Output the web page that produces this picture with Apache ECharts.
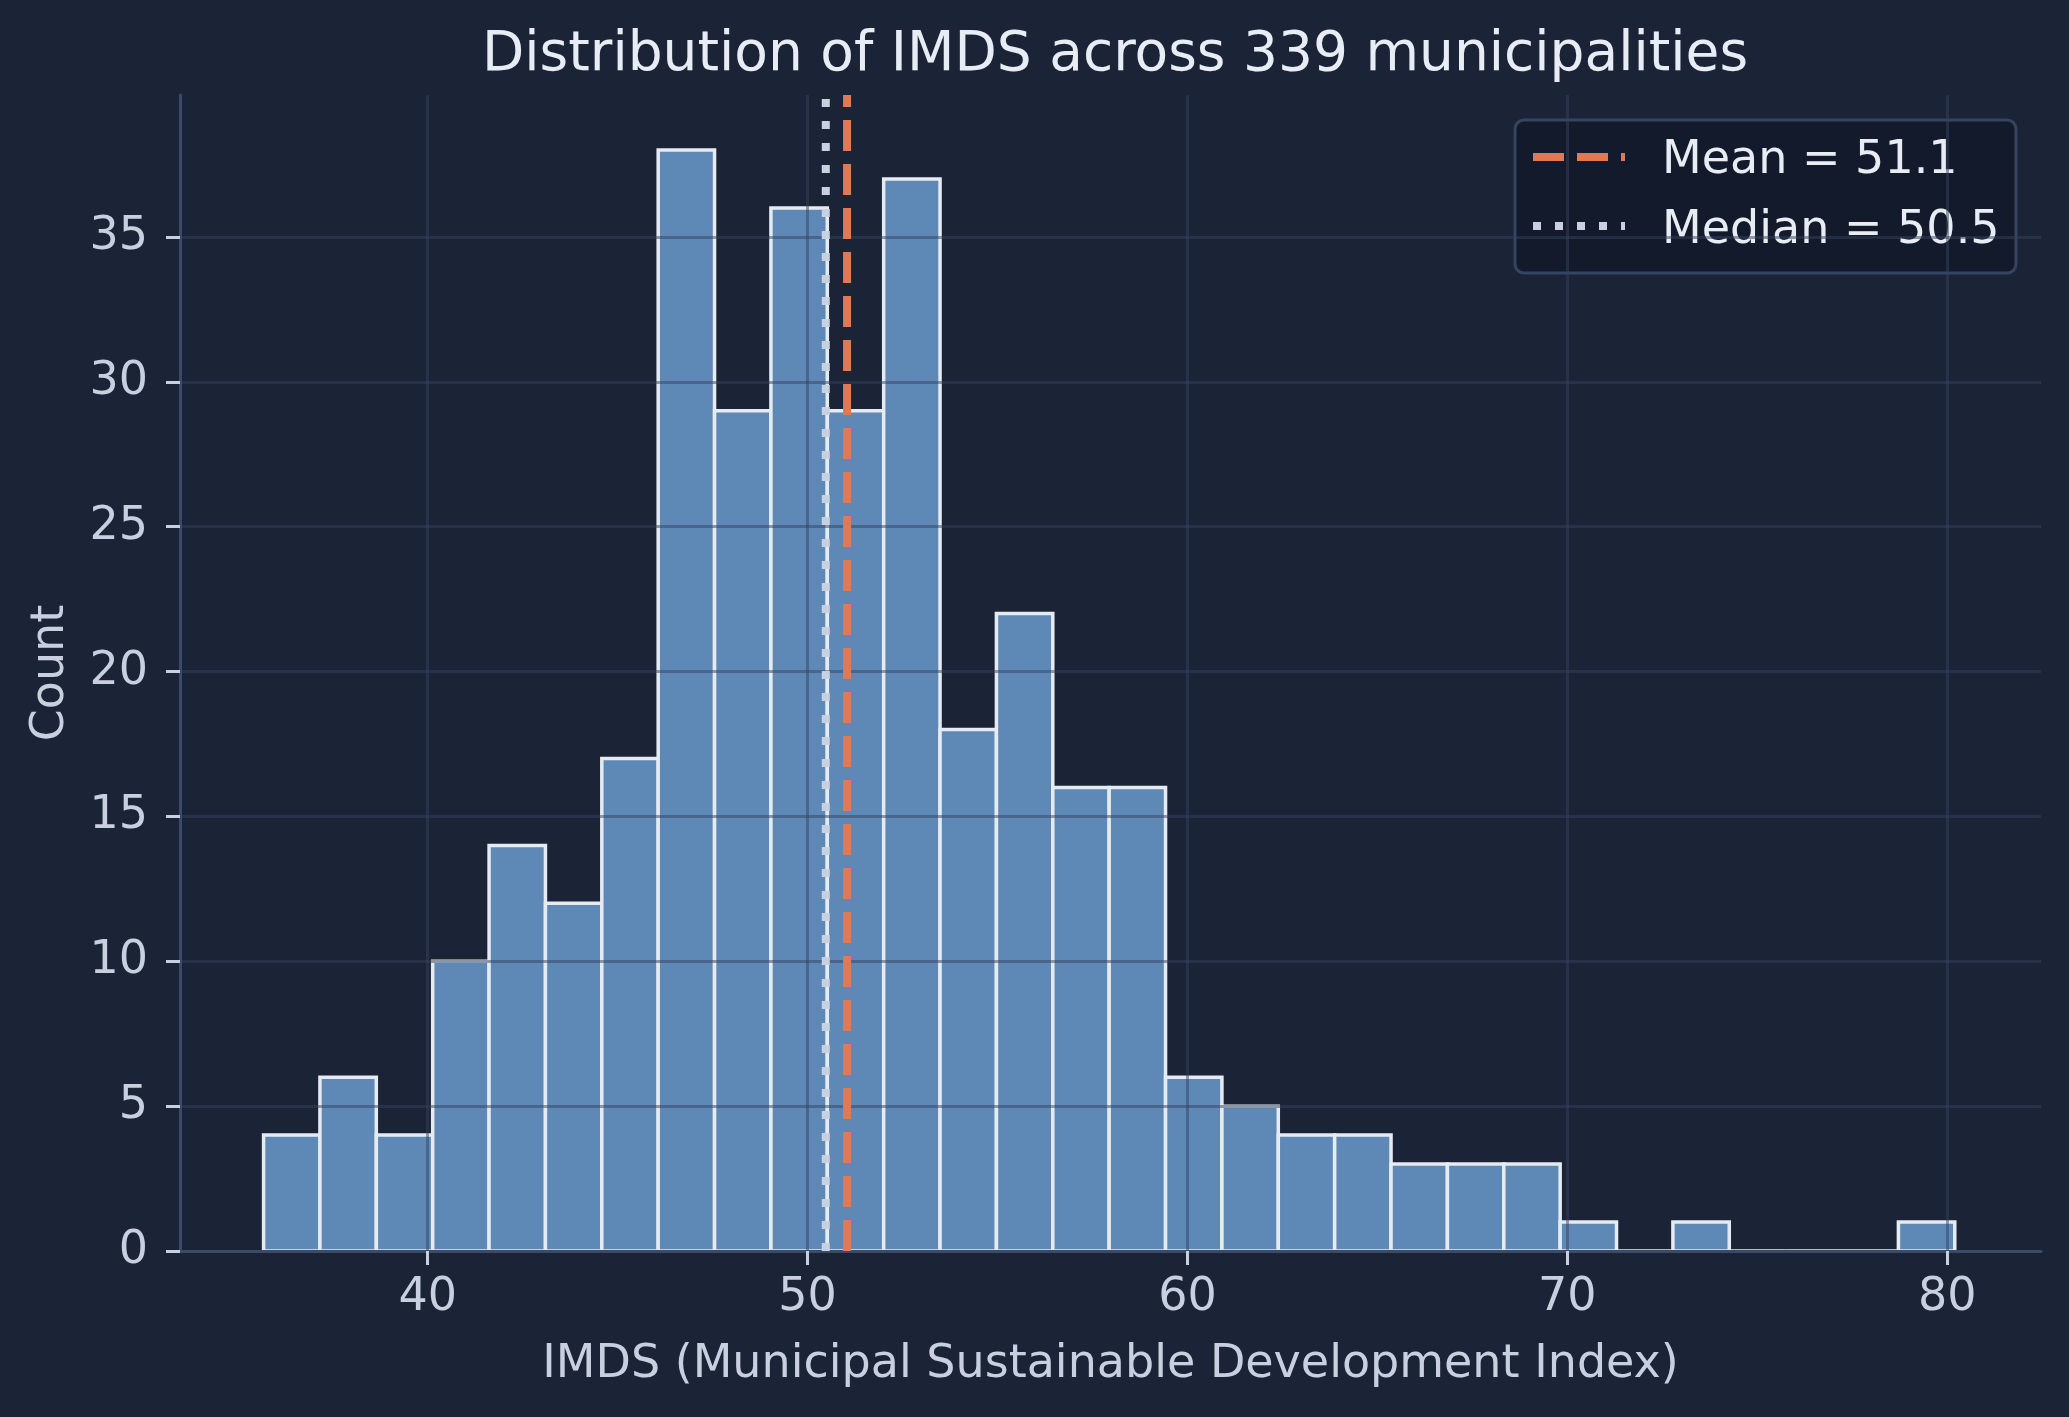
<!DOCTYPE html>
<html>
<head>
<meta charset="utf-8">
<title>Distribution of IMDS</title>
<script src="https://cdn.jsdelivr.net/npm/echarts@6/dist/echarts.min.js"></script>
<style>
  html, body { margin: 0; padding: 0; background: #1b2336; }
  #main { width: 2069px; height: 1417px; }
</style>
</head>
<body>
<div id="main"></div>
<script>
// histogram: 30 bins starting at binStart, each binWidth wide
var binStart = 35.68;
var binWidth = 1.484;
var counts = [4, 6, 4, 10, 14, 12, 17, 38, 29, 36, 29, 37, 18, 22, 16, 16,
              6, 5, 4, 4, 3, 3, 3, 1, 0, 1, 0, 0, 0, 1];
var xTicks = [40, 50, 60, 70, 80];
var yTicks = [0, 5, 10, 15, 20, 25, 30, 35];
var meanValue = 51.04;
var medianValue = 50.48;
var meanLabel = 'Mean = 51.1';
var medianLabel = 'Median = 50.5';

window.onload = function () {
    var myChart = echarts.init(document.getElementById('main'));
    var FONT = 'DejaVu Sans';
    var X_MIN = 33.48, X_MAX = 82.47, Y_MAX = 39.9;
    var MEAN_COLOR = '#e07a56';
    var MEDIAN_COLOR = '#c9d1e0';
    var LABEL_COLOR = '#c8d0df';

    var binData = counts.map(function (c, i) {
        var x0 = binStart + i * binWidth;
        return [x0, x0 + binWidth, c];
    });

    function vline(value) {
        return [[value, 0], [value, Y_MAX]];
    }

    var option = {
        backgroundColor: '#1b2336',
        animation: false,
        title: {
            text: 'Distribution of IMDS across 339 municipalities',
            left: 1110,
            textAlign: 'center',
            top: 23,
            textStyle: { color: '#e8ecf4', fontFamily: FONT, fontSize: 55, fontWeight: 'normal' }
        },
        grid: { left: 180, right: 28, top: 95, bottom: 166 },
        xAxis: {
            type: 'value',
            min: X_MIN,
            max: X_MAX,
            z: 5,
            name: 'IMDS (Municipal Sustainable Development Index)',
            nameLocation: 'middle',
            nameGap: 91,
            nameTextStyle: { color: LABEL_COLOR, fontFamily: FONT, fontSize: 46 },
            axisLine: { show: true, lineStyle: { color: '#3a4a69', width: 3 } },
            axisTick: { show: true, length: 14, customValues: xTicks, lineStyle: { color: LABEL_COLOR, width: 3 } },
            axisLabel: { customValues: xTicks, margin: 24, color: LABEL_COLOR, fontFamily: FONT, fontSize: 46 },
            splitLine: { show: true, lineStyle: { color: 'rgba(52,66,94,0.5)', width: 3 } }
        },
        yAxis: {
            type: 'value',
            min: 0,
            max: Y_MAX,
            z: 5,
            name: 'Count',
            nameLocation: 'middle',
            nameRotate: 90,
            nameGap: 106,
            nameTextStyle: { color: LABEL_COLOR, fontFamily: FONT, fontSize: 46 },
            axisLine: { show: true, lineStyle: { color: '#3a4a69', width: 3 } },
            axisTick: { show: true, length: 14, customValues: yTicks, lineStyle: { color: LABEL_COLOR, width: 3 } },
            axisLabel: { customValues: yTicks, margin: 32, color: LABEL_COLOR, fontFamily: FONT, fontSize: 46 },
            splitLine: { show: true, lineStyle: { color: 'rgba(52,66,94,0.5)', width: 3 } }
        },
        series: [
            {
                type: 'custom',
                z: 2,
                data: binData,
                encode: { x: [0, 1], y: 2 },
                renderItem: function (params, api) {
                    var p0 = api.coord([api.value(0), api.value(2)]);
                    var p1 = api.coord([api.value(1), 0]);
                    return {
                        type: 'rect',
                        shape: { x: p0[0], y: p0[1], width: p1[0] - p0[0], height: p1[1] - p0[1] },
                        style: { fill: '#5e89b6', stroke: '#e6eaf1', lineWidth: 3.5 }
                    };
                }
            },
            {
                type: 'line',
                z: 10,
                data: vline(medianValue),
                showSymbol: false,
                lineStyle: { color: MEDIAN_COLOR, width: 8, type: [8, 14], cap: 'butt' }
            },
            {
                type: 'line',
                z: 11,
                data: vline(meanValue),
                showSymbol: false,
                lineStyle: { color: MEAN_COLOR, width: 8, type: [31, 13], cap: 'butt' }
            }
        ],
        graphic: [
            {
                type: 'group',
                z: 100,
                children: [
                    {
                        type: 'rect',
                        shape: { x: 1515, y: 120, width: 501, height: 153, r: 9 },
                        style: { fill: '#131a2b', stroke: '#35455f', lineWidth: 3 }
                    },
                    {
                        type: 'line',
                        shape: { x1: 1533, y1: 157, x2: 1625, y2: 157 },
                        style: { stroke: MEAN_COLOR, lineWidth: 8, lineDash: [31, 13] }
                    },
                    {
                        type: 'line',
                        shape: { x1: 1533, y1: 226, x2: 1625, y2: 226 },
                        style: { stroke: MEDIAN_COLOR, lineWidth: 8, lineDash: [8, 14] }
                    },
                    {
                        type: 'text',
                        x: 1662, y: 161,
                        style: { text: meanLabel, fill: '#e8ecf3', font: '46px "DejaVu Sans"', verticalAlign: 'middle' }
                    },
                    {
                        type: 'text',
                        x: 1662, y: 231,
                        style: { text: medianLabel, fill: '#e8ecf3', font: '46px "DejaVu Sans"', verticalAlign: 'middle' }
                    }
                ]
            }
        ]
    };

    myChart.setOption(option);
};
</script>
</body>
</html>
